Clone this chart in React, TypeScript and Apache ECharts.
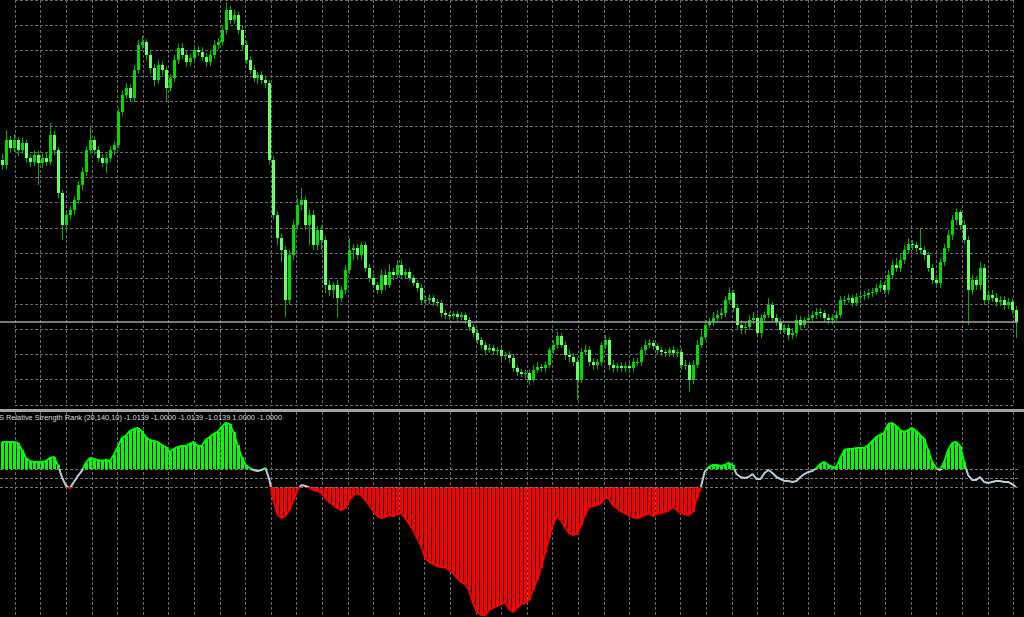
import React, { useEffect, useRef } from "react";
import * as echarts from "echarts";

// Price values in points (top pane), one entry per bar
const opens = [
  250, 245, 270, 262, 270, 260, 267, 252, 248, 255,
  247, 252, 248, 275, 260, 217, 185, 195, 200, 210,
  225, 238, 260, 270, 260, 252, 247, 252, 260, 265,
  298, 315, 322, 312, 340, 365, 368, 355, 342, 330,
  345, 340, 322, 332, 350, 362, 355, 348, 352, 360,
  358, 353, 348, 355, 365, 368, 380, 400, 390, 395,
  380, 365, 350, 340, 332, 335, 330, 327, 250, 195,
  172, 160, 110, 155, 185, 205, 210, 185, 195, 165,
  180, 170, 125, 120, 125, 112, 120, 140, 160, 162,
  155, 165, 142, 132, 125, 120, 135, 125, 138, 135,
  145, 135, 138, 132, 127, 122, 110, 110, 112, 108,
  107, 97, 95, 94, 96, 93, 95, 90, 83, 77,
  70, 65, 60, 62, 59, 60, 54, 55, 52, 42,
  38, 36, 37, 30, 40, 43, 42, 45, 60, 65,
  74, 65, 55, 53, 48, 30, 58, 60, 48, 45,
  48, 65, 70, 45, 42, 44, 42, 44, 42, 48,
  48, 60, 65, 67, 64, 60, 58, 57, 60, 57,
  58, 45, 45, 30, 45, 65, 73, 85, 88, 92,
  95, 97, 110, 117, 102, 85, 82, 83, 90, 92,
  77, 92, 95, 105, 92, 88, 80, 82, 75, 77,
  90, 85, 90, 92, 95, 98, 97, 92, 90, 92,
  95, 110, 110, 112, 107, 113, 114, 115, 117, 118,
  122, 125, 120, 135, 145, 142, 150, 160, 166, 165,
  162, 160, 155, 142, 130, 127, 148, 162, 175, 190,
  198, 185, 170, 120, 130, 125, 142, 110, 115, 112,
  108, 110, 105, 108, 100,
];

const closes = [
  245, 270, 262, 270, 260, 267, 252, 248, 255, 247,
  252, 248, 275, 260, 217, 185, 195, 200, 210, 225,
  238, 260, 270, 260, 252, 247, 252, 260, 265, 298,
  315, 322, 312, 340, 365, 368, 355, 342, 330, 345,
  340, 322, 332, 350, 362, 355, 348, 352, 360, 358,
  353, 348, 355, 365, 368, 380, 400, 390, 395, 380,
  365, 350, 340, 332, 335, 330, 327, 250, 195, 172,
  160, 110, 155, 185, 205, 210, 185, 195, 165, 180,
  170, 125, 120, 125, 112, 120, 140, 160, 162, 155,
  165, 142, 132, 125, 120, 135, 125, 138, 135, 145,
  135, 138, 132, 127, 122, 110, 110, 112, 108, 107,
  97, 95, 94, 96, 93, 95, 90, 83, 77, 70,
  65, 60, 62, 59, 60, 54, 55, 52, 42, 38,
  36, 37, 30, 40, 43, 42, 45, 60, 65, 74,
  65, 55, 53, 48, 30, 58, 60, 48, 45, 48,
  65, 70, 45, 42, 44, 42, 44, 42, 48, 48,
  60, 65, 67, 64, 60, 58, 57, 60, 57, 58,
  45, 45, 30, 45, 65, 73, 85, 88, 92, 95,
  97, 110, 117, 102, 85, 82, 83, 90, 92, 77,
  92, 95, 105, 92, 88, 80, 82, 75, 77, 90,
  85, 90, 92, 95, 98, 97, 92, 90, 92, 95,
  110, 110, 112, 107, 113, 114, 115, 117, 118, 122,
  125, 120, 135, 145, 142, 150, 160, 166, 165, 162,
  160, 155, 142, 130, 127, 148, 162, 175, 190, 198,
  185, 170, 120, 130, 125, 142, 110, 115, 112, 108,
  110, 105, 108, 100, 88,
];

const highs = [
  256, 280, 274, 276, 273, 272, 270, 256, 260, 259,
  256, 257, 287, 279, 263, 220, 199, 204, 214, 229,
  243, 264, 283, 274, 264, 256, 256, 264, 269, 302,
  320, 327, 326, 345, 370, 374, 371, 360, 346, 350,
  349, 344, 336, 355, 366, 367, 359, 356, 364, 364,
  363, 357, 360, 370, 372, 385, 408, 404, 400, 398,
  384, 369, 354, 345, 338, 339, 334, 330, 254, 199,
  176, 164, 160, 190, 212, 222, 214, 200, 200, 184,
  185, 174, 130, 128, 130, 124, 145, 172, 166, 166,
  168, 168, 146, 136, 128, 140, 140, 146, 142, 150,
  150, 141, 142, 135, 130, 126, 114, 116, 115, 111,
  110, 100, 98, 99, 99, 98, 98, 93, 86, 80,
  73, 68, 66, 65, 63, 63, 58, 59, 56, 45,
  41, 40, 40, 45, 48, 46, 49, 63, 70, 78,
  77, 69, 60, 57, 52, 62, 65, 64, 52, 51,
  68, 75, 73, 50, 47, 48, 48, 47, 52, 52,
  63, 70, 71, 70, 67, 63, 61, 63, 64, 61,
  62, 50, 48, 50, 70, 80, 90, 92, 98, 100,
  102, 114, 123, 120, 106, 90, 88, 95, 98, 96,
  96, 98, 112, 108, 96, 92, 86, 86, 82, 95,
  94, 93, 96, 99, 102, 102, 100, 96, 96, 99,
  114, 114, 116, 115, 117, 118, 119, 121, 122, 126,
  130, 128, 140, 150, 152, 156, 165, 172, 170, 168,
  182, 164, 158, 146, 134, 152, 166, 180, 195, 202,
  200, 190, 174, 135, 134, 148, 146, 120, 120, 117,
  114, 114, 112, 112, 104,
];

const lows = [
  240, 241, 257, 258, 254, 256, 247, 243, 244, 225,
  242, 244, 245, 255, 212, 170, 180, 190, 195, 206,
  220, 234, 256, 255, 248, 243, 237, 248, 255, 262,
  294, 311, 308, 308, 336, 361, 350, 336, 324, 326,
  335, 308, 318, 328, 346, 351, 343, 344, 348, 354,
  349, 343, 344, 351, 361, 364, 376, 386, 386, 376,
  360, 346, 336, 328, 326, 326, 322, 246, 190, 165,
  148, 93, 105, 150, 180, 200, 180, 165, 160, 160,
  160, 117, 114, 112, 92, 108, 116, 136, 150, 150,
  150, 138, 128, 122, 116, 116, 120, 122, 130, 131,
  131, 132, 129, 124, 118, 105, 106, 106, 104, 103,
  93, 91, 90, 91, 89, 90, 86, 79, 73, 66,
  61, 56, 57, 55, 55, 50, 50, 47, 38, 34,
  33, 31, 25, 28, 37, 38, 38, 42, 56, 61,
  62, 50, 48, 44, 10, 27, 55, 44, 40, 41,
  44, 61, 40, 38, 38, 38, 38, 38, 38, 44,
  44, 56, 62, 60, 56, 54, 53, 53, 53, 53,
  40, 40, 18, 26, 42, 62, 70, 82, 84, 88,
  91, 93, 106, 98, 80, 76, 76, 80, 86, 73,
  72, 88, 92, 88, 84, 76, 76, 70, 71, 73,
  80, 82, 87, 89, 91, 93, 88, 86, 86, 88,
  92, 105, 107, 103, 104, 109, 110, 111, 113, 115,
  118, 116, 116, 131, 138, 138, 146, 156, 160, 158,
  156, 150, 138, 126, 122, 122, 144, 158, 170, 185,
  180, 166, 85, 115, 120, 120, 105, 106, 108, 103,
  104, 100, 101, 96, 72,
];

// Relative Strength Rank indicator values (bottom pane)
const rsr = [
  4.0, 4.0, 4.0, 4.0, 3.89, 3.11, 2.22, 1.89, 1.78, 1.78,
  1.78, 1.89, 2.22, 2.33, 1.44, 0.11, -0.85, -1.15, -0.44, 0.22,
  0.78, 1.67, 2.22, 2.11, 2.0, 1.89, 2.0, 1.89, 2.56, 3.44,
  4.44, 4.67, 5.22, 5.44, 5.56, 5.22, 4.56, 4.22, 4.11, 4.0,
  3.67, 3.44, 2.89, 3.22, 3.44, 3.56, 3.56, 3.78, 4.0, 3.56,
  3.56, 4.22, 4.56, 4.89, 5.11, 5.67, 6.11, 6.0, 5.11, 3.67,
  2.33, 1.44, 1.11, 0.89, 0.78, 0.89, 1.11, -0.22, -2.44, -4.0,
  -4.44, -4.22, -3.56, -2.44, -1.33, -0.78, -0.89, -1.05, -1.33, -1.44,
  -1.67, -2.22, -2.67, -3.0, -3.33, -3.56, -3.33, -2.44, -1.89, -1.67,
  -1.89, -2.44, -3.0, -3.67, -4.22, -4.44, -4.33, -4.11, -4.22, -4.0,
  -3.89, -4.44, -5.11, -5.78, -6.67, -7.56, -8.89, -9.33, -9.56, -9.78,
  -9.89, -9.89, -10.22, -10.56, -11.11, -11.56, -11.78, -12.44, -13.89, -14.89,
  -15.22, -15.22, -14.67, -14.44, -14.22, -14.0, -13.78, -14.56, -14.89, -14.44,
  -14.0, -13.89, -13.56, -12.44, -11.33, -10.0, -8.33, -6.67, -5.11, -4.22,
  -4.67, -5.44, -6.11, -6.33, -6.22, -5.22, -4.11, -3.22, -3.11, -3.0,
  -2.78, -2.22, -2.22, -3.0, -3.33, -3.67, -3.89, -4.11, -4.33, -4.44,
  -4.33, -4.11, -3.89, -4.22, -4.0, -3.89, -3.78, -3.56, -3.22, -3.56,
  -3.89, -4.0, -4.11, -3.78, -2.22, -1.11, 0.67, 1.22, 1.44, 1.44,
  1.33, 1.44, 1.67, 1.44, 0.44, 0.11, 0.0, 0.11, 0.44, -0.11,
  -0.11, 0.56, 0.89, 0.56, 0.11, -0.11, -0.33, -0.33, -0.44, -0.33,
  0.11, 0.44, 0.67, 0.78, 1.11, 1.56, 1.78, 1.44, 1.22, 1.22,
  2.22, 3.11, 3.22, 3.22, 3.33, 3.33, 3.33, 3.67, 4.11, 4.56,
  4.78, 5.0, 6.0, 6.11, 5.78, 5.33, 5.11, 5.33, 5.56, 5.22,
  4.78, 4.33, 3.11, 1.78, 1.11, 0.89, 1.78, 3.11, 3.89, 4.0,
  3.56, 1.78, 0.33, -0.22, -0.22, 0.11, -0.44, -0.56, -0.44, -0.33,
  -0.33, -0.44, -0.44, -0.67, -1.0139,
];

const levels = [1, 0, -1];
const upperLevel = 1;
const lowerLevel = -1;
const indicatorTitle =
  "S Relative Strength Rank (20,140,10) -1.0139 -1.0000 -1.0139 -1.0139 1.0000 -1.0000";
const barLabels = closes.map((_, i) => String(i + 1));

export default function App() {
  const ref = useRef<HTMLDivElement>(null);

  useEffect(() => {
    if (!ref.current) return;
    const chart = echarts.init(ref.current, null, { renderer: "svg" });

    const candleData = closes.map((c, i) => [i, opens[i], c, lows[i], highs[i]]);
    const histData = rsr.map((v, i) => [i, v]);

    const gridLine = {
      show: true,
      lineStyle: { color: "#6a6a6a", type: [3, 2], width: 1 },
    };
    const hidden = {
      axisLine: { show: false },
      axisTick: { show: false },
      axisLabel: { show: false },
    };

    chart.setOption({
      animation: false,
      backgroundColor: "#000000",
      title: {
        text: indicatorTitle,
        left: -1,
        top: 414,
        padding: 0,
        textStyle: {
          color: "#dcdcdc",
          fontSize: 7.4,
          fontWeight: "normal",
          fontFamily: "Liberation Sans",
        },
      },
      grid: [
        { left: 15, top: -23.8, width: 998.4, height: 428.8 },
        { left: 15, top: 412, width: 998.4, height: 205 },
        { left: -2, top: 0, width: 1020, height: 410 },
        { left: -2, top: 412, width: 1020, height: 205 },
      ],
      xAxis: [
        { type: "value", gridIndex: 0, min: 0, max: 39, interval: 1, splitLine: gridLine, ...hidden },
        { type: "value", gridIndex: 1, min: 0, max: 39, interval: 1, splitLine: gridLine, ...hidden },
        { type: "category", gridIndex: 2, data: barLabels, boundaryGap: true, splitLine: { show: false }, ...hidden },
        { type: "category", gridIndex: 3, data: barLabels, boundaryGap: true, splitLine: { show: false }, ...hidden },
      ],
      yAxis: [
        { type: "value", gridIndex: 0, min: 0, max: 16, interval: 1, splitLine: gridLine, ...hidden },
        { type: "value", gridIndex: 1, min: 0, max: 1, splitLine: { show: false }, ...hidden },
        { type: "value", gridIndex: 2, min: 0, max: 410, splitLine: { show: false }, ...hidden },
        { type: "value", gridIndex: 3, min: -15.444, max: 7.333, splitLine: { show: false }, ...hidden },
      ],
      visualMap: {
        type: "piecewise",
        show: false,
        seriesIndex: 2,
        pieces: [
          { gt: upperLevel, color: "#00ff00" },
          { gte: lowerLevel, lte: upperLevel, color: "#b8cce0" },
          { lt: lowerLevel, color: "#ff0000" },
        ],
      },
      graphic: [
        {
          type: "rect",
          shape: { x: 0, y: 409, width: 1024, height: 3 },
          style: { fill: "#a2a2a2" },
          z: 100,
        },
      ],
      series: [
        {
          type: "custom",
          name: "Price",
          xAxisIndex: 2,
          yAxisIndex: 2,
          data: candleData,
          encode: { x: 0, y: [1, 2, 3, 4] },
          renderItem: (params: any, api: any) => {
            const i = api.value(0);
            const o = api.value(1);
            const c = api.value(2);
            const l = api.value(3);
            const h = api.value(4);
            const pO = api.coord([i, o]);
            const pC = api.coord([i, c]);
            const pL = api.coord([i, l]);
            const pH = api.coord([i, h]);
            const x = Math.round(pO[0]);
            const top = Math.min(pO[1], pC[1]);
            const bh = Math.max(1, Math.abs(pO[1] - pC[1]));
            return {
              type: "group",
              children: [
                {
                  type: "line",
                  shape: { x1: x + 0.5, y1: pH[1], x2: x + 0.5, y2: pL[1] },
                  style: { stroke: "#00b000", lineWidth: 1 },
                },
                {
                  type: "rect",
                  shape: { x: x - 1, y: top, width: 3, height: bh },
                  style: { fill: c >= o ? "#00dc00" : "#66ff66" },
                },
              ],
            };
          },
          markLine: {
            silent: true,
            symbol: "none",
            label: { show: false },
            lineStyle: { color: "#a0a0a0", type: "solid", width: 1.5 },
            data: [{ yAxis: closes[closes.length - 1] }],
          },
        },
        {
          type: "custom",
          name: "RSR histogram",
          xAxisIndex: 3,
          yAxisIndex: 3,
          data: histData,
          encode: { x: 0, y: 1 },
          renderItem: (params: any, api: any) => {
            const i = api.value(0);
            const v = api.value(1);
            if (v <= upperLevel && v >= lowerLevel) return null;
            const base = v > upperLevel ? upperLevel : lowerLevel;
            const p0 = api.coord([i, base]);
            const p1 = api.coord([i, v]);
            const x = Math.round(p0[0]);
            return {
              type: "rect",
              shape: {
                x: x - 1,
                y: Math.min(p0[1], p1[1]),
                width: 3,
                height: Math.abs(p1[1] - p0[1]),
              },
              style: { fill: v > upperLevel ? "#00ff00" : "#ff0000" },
            };
          },
          markLine: {
            silent: true,
            symbol: "none",
            label: { show: false },
            lineStyle: { color: "#7a7a7a", type: [3, 2], width: 1 },
            data: levels.map((lv) => ({ yAxis: lv })),
          },
        },
        {
          type: "line",
          name: "RSR",
          xAxisIndex: 3,
          yAxisIndex: 3,
          data: rsr,
          showSymbol: false,
          symbol: "none",
          lineStyle: { width: 2 },
          z: 5,
        },
      ],
    });

    return () => chart.dispose();
  }, []);

  return (
    <div
      ref={ref}
      style={{ position: "fixed", left: 0, top: 0, width: 1024, height: 617, background: "#000" }}
    />
  );
}
